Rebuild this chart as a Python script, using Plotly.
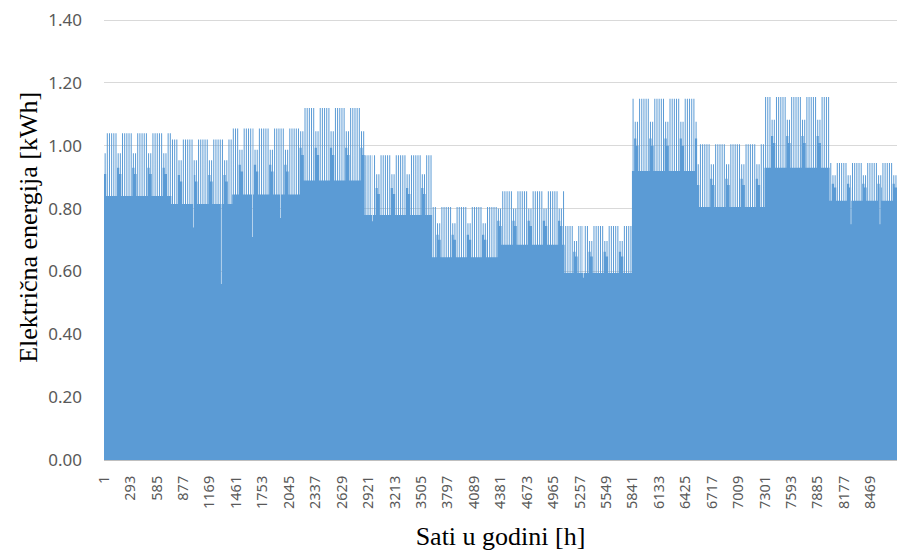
import plotly.graph_objects as go

# ---------------- data ----------------
month_days = [31, 28, 31, 30, 31, 30, 31, 31, 30, 31, 30, 31]
month_peak = [1.04, 1.02, 1.055, 1.12, 0.97, 0.805, 0.855, 0.745, 1.15, 1.005, 1.155, 0.945]
month_base = [0.84, 0.815, 0.845, 0.89, 0.78, 0.645, 0.685, 0.595, 0.92, 0.805, 0.93, 0.825]

# share of the (peak - base) range reached in each hour of a day
hour_profile = [0, 0, 0, 0, 0, 0, 0, 1, 1, 1, 1, 1,
                1, 1, 1, 1, 1, 1, 0, 0, 0, 0, 0, 0]
# per weekday (Sun..Sat): lowest and highest share of the monthly range
weekday_low = [0.35, 0.0, 0.0, 0.0, 0.0, 0.0, 0.45]
weekday_high = [0.68, 1.0, 1.0, 1.0, 1.0, 1.0, 0.68]

# isolated low hours visible as thin notches
dip_hours = [985, 1293, 1636, 1946, 2962, 5292, 8250, 8570]
dip_values = [0.74, 0.56, 0.71, 0.77, 0.76, 0.58, 0.75, 0.75]
dip_length = 6

tick_labels = [str(1 + 292 * k) for k in range(30)]
y_ticks = [0, 0.2, 0.4, 0.6, 0.8, 1.0, 1.2, 1.4]

# ---------------- build hourly series ----------------
values = []
day_index = 0
for m, nd in enumerate(month_days):
    rng = month_peak[m] - month_base[m]
    for d in range(nd):
        wd = day_index % 7
        lo = month_base[m] + rng * weekday_low[wd]
        hi = month_base[m] + rng * weekday_high[wd]
        for h in range(24):
            values.append(lo + (hi - lo) * hour_profile[h])
        day_index += 1

for hh, vv in zip(dip_hours, dip_values):
    for k in range(dip_length):
        values[hh - 1 + k] = vv

hours = list(range(1, len(values) + 1))
x_edges = [h - 0.5 for h in hours] + [hours[-1] + 0.5]
y_steps = values + [values[-1]]

fig = go.Figure()
fig.add_trace(go.Scatter(
    x=x_edges, y=y_steps, mode="lines", line=dict(width=0, shape="hv"),
    fill="tozeroy", fillcolor="#5b9bd5", hoverinfo="skip", showlegend=False,
))

tick_font = dict(family="Noto Sans", size=14.5, color="#595959")
title_font = dict(family="Liberation Serif", size=26, color="#000000")

fig.update_layout(
    width=898, height=553,
    margin=dict(l=104, r=1, t=17, b=93),
    paper_bgcolor="white", plot_bgcolor="white",
    showlegend=False,
)
fig.update_xaxes(
    range=[0.5, len(values) + 0.5], automargin=False,
    tickmode="array", tickvals=[int(t) for t in tick_labels], ticktext=tick_labels,
    tickangle=-90, tickfont=tick_font, ticks="", ticklabelstandoff=9,
    showgrid=False, zeroline=False, showline=True, linecolor="#bfbfbf", linewidth=1,
    title=dict(text="Sati u godini [h]", font=title_font, standoff=18),
)
fig.update_yaxes(
    range=[0, 1.41], automargin=False,
    tickmode="array", tickvals=y_ticks, tickformat=".2f",
    tickfont=dict(family="Noto Sans", size=17, color="#595959"),
    ticks="", ticklabelstandoff=21,
    showgrid=True, gridcolor="#d9d9d9", gridwidth=1, zeroline=False, showline=False,
)
fig.add_annotation(
    text="Električna energija [kWh]", font=title_font, textangle=-90,
    xref="paper", yref="paper", x=0, y=0.524, xanchor="center", yanchor="middle",
    xshift=-75, showarrow=False,
)

fig.write_html(
    "out.html",
    config={"displayModeBar": False},
    post_script="document.body.style.margin='0';document.body.style.overflow='hidden';",
)
